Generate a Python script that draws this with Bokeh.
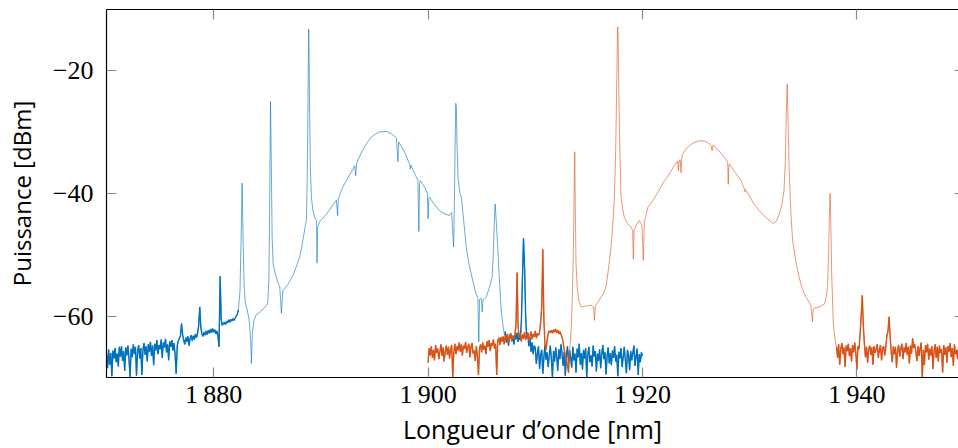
import numpy as np
from bokeh.plotting import figure
from bokeh.models import Range1d, FixedTicker, LinearAxis
from bokeh.embed import file_html
from bokeh.resources import INLINE

# ---------------- data ----------------
x_ticks = [1880, 1900, 1920, 1940]
x_tick_labels = ["1\u2009880", "1\u2009900", "1\u2009920", "1\u2009940"]
y_ticks = [-60, -40, -20]
y_tick_labels = ["\u221260", "\u221240", "\u221220"]

STEP = 0.1  # nm, sampling of the noisy stretches

# blue: noisy floor 1870.0 ... 1882.3 nm (step 0.1)
blue_floor_start = 1870.0
blue_floor_db = [
    -66.2, -68.5, -65.4, -67.9, -66.0, -69.8, -65.6, -66.9, -65.2, -67.5,
    -66.1, -68.2, -65.0, -66.6, -64.9, -67.3, -65.7, -68.9, -65.1, -66.4,
    -64.8, -67.0, -69.9, -65.3, -66.7, -64.6, -66.2, -65.0, -69.7, -65.8,
    -64.7, -66.9, -65.2, -69.6, -65.5, -64.4, -66.3, -64.9, -67.4, -64.6,
    -65.8, -64.2, -66.5, -64.8, -68.0, -64.5, -65.6, -63.9, -66.2, -64.7,
    -65.4, -63.8, -66.8, -64.3, -65.1, -63.7, -65.9, -64.6, -67.2, -64.1,
    -65.0, -63.9, -65.6, -64.4, -66.3,
    -69.4, -64.8, -64.0, -63.6, -63.2, -61.2, -63.0,
    -63.9, -64.6, -63.5, -64.2, -63.3, -64.8, -63.6, -63.1, -64.0, -63.2,
    -63.8, -62.9, -63.5, -62.8, -61.5, -58.5, -61.8, -62.9, -63.3, -62.6,
    -63.1, -62.4, -63.0, -62.3, -62.8, -62.1, -62.7, -62.0, -62.6, -62.2,
    -62.9, -62.4, -63.3, -65.0, -53.5, -60.5, -61.5, -61.2, -61.0, -61.4,
    -60.8, -61.1, -60.6, -61.0, -60.5, -60.8, -60.4, -60.7, -60.3, -60.0,
    -59.7, -59.0,
]

# blue: resolved lines and pump band 1882.45 ... 1907.13 nm
blue_mid_nm = [
    1882.45, 1882.55, 1882.65, 1882.75, 1882.85, 1882.95, 1883.1, 1883.3, 1883.45, 1883.52,
    1883.6, 1883.75, 1883.95, 1884.2, 1884.3, 1884.5, 1884.7, 1884.9, 1885.04, 1885.15,
    1885.22, 1885.3, 1885.38, 1885.45, 1885.54, 1885.7, 1885.9, 1886.05, 1886.16, 1886.32,
    1886.45, 1886.63, 1886.9, 1887.2, 1887.5, 1887.8, 1888.02, 1888.2, 1888.4, 1888.55,
    1888.65, 1888.72, 1888.78, 1888.83, 1888.86, 1888.9, 1888.95, 1889.02, 1889.12, 1889.26,
    1889.45, 1889.58, 1889.64, 1889.7, 1889.89, 1890.2, 1890.5, 1890.8, 1891.1, 1891.44,
    1891.56, 1891.62, 1891.75, 1892.05, 1892.38, 1892.7, 1893.0, 1893.15, 1893.25, 1893.32,
    1893.6, 1893.9, 1894.24, 1894.6, 1895.0, 1895.4, 1895.79, 1896.2, 1896.6, 1897.04,
    1897.19, 1897.26, 1897.35, 1897.6, 1897.9, 1898.15, 1898.28, 1898.34, 1898.4, 1898.6,
    1898.85, 1899.05, 1899.14, 1899.2, 1899.27, 1899.5, 1899.75, 1899.93, 1900.0, 1900.07,
    1900.14, 1900.5, 1901.07, 1901.5, 1902.0, 1902.2, 1902.38, 1902.45, 1902.52, 1902.58,
    1902.63, 1902.7, 1902.8, 1902.95, 1903.1, 1903.3, 1903.56, 1903.85, 1904.18, 1904.45,
    1904.64, 1904.73, 1904.8, 1904.96, 1905.05, 1905.12, 1905.42, 1905.7, 1905.98, 1906.1,
    1906.18, 1906.26, 1906.34, 1906.42, 1906.5, 1906.65, 1906.82, 1906.98, 1907.13,
]
blue_mid_db = [
    -56.0, -48.0, -38.3, -48.5, -55.5, -57.8, -58.8, -60.5, -64.0, -67.7,
    -63.0, -60.7, -59.8, -59.5, -59.3, -59.0, -58.7, -58.3, -57.9, -54.0,
    -42.0, -25.0, -36.0, -47.0, -51.4, -52.8, -54.0, -54.8, -55.2, -59.5,
    -55.8, -55.5, -54.9, -54.0, -52.9, -51.5, -50.3, -48.8, -46.8, -45.2,
    -44.4, -38.0, -28.0, -18.0, -13.2, -17.0, -27.0, -36.0, -40.8, -42.8,
    -44.0, -44.4, -51.3, -45.5, -44.6, -44.0, -43.4, -42.7, -41.9, -41.1,
    -43.6, -40.8, -40.3, -38.9, -37.9, -36.9, -36.0, -35.5, -37.1, -35.2,
    -34.0, -32.9, -31.9, -31.0, -30.4, -30.0, -29.9, -29.9, -30.3, -30.9,
    -34.8, -31.6, -31.9, -32.6, -33.6, -34.7, -35.2, -36.0, -35.4, -36.2,
    -37.1, -37.9, -46.2, -38.5, -37.9, -38.5, -39.2, -40.0, -44.1, -40.8,
    -40.6, -41.6, -42.8, -43.3, -43.6, -43.1, -48.7, -42.0, -32.0, -25.3,
    -25.8, -32.0, -37.5, -39.8, -40.6, -44.0, -48.8, -51.8, -54.3, -56.2,
    -57.0, -64.2, -57.3, -57.1, -59.3, -57.4, -56.9, -55.4, -53.6, -49.0,
    -44.5, -41.7, -44.0, -46.5, -48.8, -54.0, -59.0, -61.5, -63.1,
]

# blue: noisy tail 1907.2 ... 1920.0 nm (step 0.1)
blue_tail_start = 1907.2
blue_tail_db = [
    -62.5, -64.3, -63.0, -64.8, -63.4, -62.8, -64.1, -63.2, -64.6, -63.0,
    -63.8, -62.7, -64.2, -63.1, -63.9, -61.0, -54.0, -47.3, -52.0, -60.0,
    -63.5, -62.7, -64.9, -63.4, -65.8, -64.3, -66.2, -64.8,
    -65.2, -67.8, -66.0, -64.9, -68.6, -66.3, -65.5, -69.4, -66.8, -64.7,
    -67.1, -65.9, -68.3, -66.5, -64.8, -66.9, -70.0, -65.7, -67.4, -65.1,
    -66.6, -68.9, -65.4, -67.0, -64.6, -66.2, -68.1, -65.8, -69.7, -66.4,
    -64.9, -67.6, -65.6, -66.8, -68.4, -65.0, -67.2, -66.1, -69.2, -65.3,
    -66.7, -64.5, -67.9, -66.0, -68.7, -65.5, -66.9, -65.2, -70.0, -66.3,
    -65.0, -67.5, -66.4, -68.2, -64.8, -66.6, -65.7, -69.0, -66.1, -67.3,
    -65.4, -68.5, -66.2, -64.7, -67.0, -65.9, -69.5, -66.5, -65.1, -67.7,
    -66.0, -68.0, -65.6, -66.8, -64.9, -67.4, -66.3, -69.8, -65.8, -66.9,
    -65.2, -68.3, -66.7, -65.0, -67.1, -69.3, -65.5, -66.4, -68.8, -65.7,
    -67.2, -66.0, -64.8, -68.1, -66.6, -65.3, -69.6, -66.2, -67.5, -65.9,
    -66.5,
]

# orange: noisy head 1900.0 ... 1913.2 nm (step 0.1)
orange_head_start = 1900.0
orange_head_db = [
    -67.6, -65.2, -66.4, -64.9, -66.8, -65.5, -67.2, -64.7, -66.0, -65.3,
    -67.0, -65.8, -64.6, -66.5, -65.1, -67.4, -65.7, -64.8, -66.3, -65.0,
    -66.9, -65.4, -64.7, -69.9, -65.9, -64.5, -66.2, -64.9, -65.6, -64.3,
    -65.8, -64.6, -66.4, -64.8, -65.3, -64.2, -66.0, -65.1, -64.5, -66.7,
    -65.0, -64.4, -66.1, -65.6, -67.3, -64.9, -66.6, -69.6, -65.2, -64.6,
    -65.9, -64.3, -65.5, -64.8, -66.2, -64.1, -65.0, -63.9, -65.7, -64.4,
    -64.8, -63.8, -65.3, -64.5, -69.6, -64.0, -63.5, -64.7, -63.4, -64.2,
    -63.3, -64.6, -63.1, -63.9, -62.9, -64.3, -63.6, -62.8, -64.0, -63.2,
    -63.7, -62.9, -61.5, -52.9, -61.8,
    -63.5, -62.8, -64.1, -63.0, -63.7, -62.6, -63.9, -63.2, -62.7, -64.0,
    -63.3, -62.5, -63.8, -62.9, -63.4, -62.4, -63.6, -62.8, -63.1, -62.6,
    -61.0,
    -58.5, -49.1, -60.5, -64.5, -65.5, -64.0, -62.9, -62.4, -62.7, -62.3,
    -62.8, -62.2, -62.6, -62.1, -62.7, -62.3, -62.9, -62.5, -63.0, -63.4,
    -64.3, -65.5, -66.4, -67.2, -68.0, -69.2, -65.5,
]

# orange: resolved lines and pump band 1913.35 ... 1938.04 nm
orange_mid_nm = [
    1913.35, 1913.45, 1913.56, 1913.62, 1913.68, 1913.73, 1913.8, 1913.92, 1914.05, 1914.28,
    1914.6, 1914.9, 1915.2, 1915.45, 1915.52, 1915.6, 1915.85, 1916.14, 1916.4, 1916.6,
    1916.85, 1917.07, 1917.25, 1917.38, 1917.5, 1917.6, 1917.66, 1917.69, 1917.73, 1917.8,
    1917.9, 1918.0, 1918.15, 1918.31, 1918.6, 1918.94, 1919.08, 1919.15, 1919.22, 1919.34,
    1919.55, 1919.7, 1919.96, 1920.08, 1920.18, 1920.33, 1920.48, 1920.7, 1920.95, 1921.3,
    1921.7, 1922.04, 1922.2, 1922.6, 1923.0, 1923.28, 1923.35, 1923.42, 1923.52, 1923.6,
    1923.67, 1923.75, 1924.05, 1924.37, 1924.8, 1925.3, 1925.6, 1925.85, 1926.08, 1926.3,
    1926.42, 1926.49, 1926.56, 1926.7, 1927.0, 1927.35, 1927.63, 1927.85, 1927.95, 1928.0,
    1928.05, 1928.1, 1928.5, 1928.9, 1929.2, 1929.4, 1929.5, 1929.55, 1929.62, 1930.0,
    1930.4, 1930.8, 1931.2, 1931.7, 1932.2, 1932.5, 1932.75, 1933.0, 1933.2, 1933.32,
    1933.42, 1933.5, 1933.57, 1933.68, 1933.85, 1934.0, 1934.3, 1934.6, 1934.9, 1935.25,
    1935.5, 1935.7, 1935.86, 1935.93, 1936.0, 1936.3, 1936.6, 1937.0, 1937.15, 1937.26,
    1937.36, 1937.43, 1937.5, 1937.56, 1937.65, 1937.8, 1937.95, 1938.04,
]
orange_mid_db = [
    -62.3, -57.0, -48.8, -40.0, -33.2, -42.0, -51.4, -55.5, -57.4, -58.5,
    -58.4, -58.3, -58.2, -58.6, -60.7, -58.3, -57.7, -56.9, -56.1, -55.2,
    -52.0, -48.8, -44.5, -40.6, -33.0, -22.0, -14.0, -12.8, -15.0, -24.0,
    -34.0, -40.6, -42.5, -43.9, -44.9, -45.5, -46.0, -50.7, -46.0, -45.5,
    -44.8, -44.4, -45.2, -50.9, -44.5, -43.6, -42.3, -41.8, -41.2, -40.2,
    -39.0, -37.9, -37.6, -36.5, -35.4, -34.7, -36.3, -34.6, -34.5, -36.6,
    -34.0, -33.6, -32.8, -32.2, -31.7, -31.4, -31.4, -31.5, -31.7, -32.0,
    -32.3, -33.0, -32.2, -32.2, -32.8, -33.5, -34.1, -34.6, -35.0, -38.5,
    -35.8, -35.2, -36.2, -37.2, -37.9, -38.8, -39.2, -39.7, -39.4, -40.5,
    -41.7, -42.6, -43.4, -44.2, -44.9, -44.5, -43.4, -41.8, -39.6, -35.0,
    -27.0, -22.2, -27.0, -36.0, -43.4, -47.6, -51.0, -53.6, -55.5, -56.9,
    -57.6, -58.2, -60.9, -58.8, -58.7, -58.6, -58.4, -58.0, -56.8, -55.2,
    -50.0, -44.0, -40.0, -44.0, -53.0, -61.2, -63.5, -64.7,
]

# orange: noisy tail 1938.1 ... 1950.0 nm (step 0.1)
orange_tail_start = 1938.1
orange_tail_db = [
    -65.0, -66.8, -64.6, -67.9, -65.3, -64.4, -66.2, -65.1, -68.3, -64.8,
    -65.7, -64.5, -66.5, -65.2, -67.4, -64.7, -65.9, -64.3, -66.0, -68.7,
    -64.9, -65.4, -63.0,
    -60.0, -56.6, -61.5, -64.5,
    -66.7, -65.0, -67.6, -65.4, -64.8, -66.3, -65.1, -67.9, -64.9, -66.0,
    -65.3, -64.6, -66.8, -65.5, -64.7, -67.2, -65.2, -64.9, -66.4, -65.0,
    -63.2,
    -62.5, -60.1, -63.2,
    -65.8, -67.5, -64.9, -66.2, -65.0, -68.4, -65.6, -64.7, -66.6, -65.3,
    -64.5, -67.0, -65.1, -65.9, -64.4, -66.3, -65.0, -67.7, -64.8, -66.1,
    -63.6, -65.2, -64.6, -65.8, -67.3, -64.9, -66.5, -65.2, -64.3, -69.9,
    -65.5, -68.0, -64.7, -65.9, -64.5, -67.1, -65.3, -66.4, -64.9, -68.6,
    -65.7, -64.6, -66.8, -65.0, -67.4, -64.8, -66.0, -65.4, -69.2, -64.7,
    -66.3, -65.1, -67.6, -64.9, -65.8, -64.4, -66.7, -65.2, -68.1, -64.6,
    -66.2, -65.5, -67.0, -64.8, -66.5, -65.3, -68.8, -64.9, -66.1,
]

BLUE = "#0072BD"
ORANGE = "#D95319"


def grid(start, values):
    return list(np.round(start + STEP * np.arange(len(values)), 2))


blue_floor_nm = grid(blue_floor_start, blue_floor_db)
blue_tail_nm = grid(blue_tail_start, blue_tail_db)
orange_head_nm = grid(orange_head_start, orange_head_db)
orange_tail_nm = grid(orange_tail_start, orange_tail_db)

blue_nm = blue_floor_nm + blue_mid_nm + blue_tail_nm
blue_db = blue_floor_db + blue_mid_db + blue_tail_db
orange_nm = orange_head_nm + orange_mid_nm + orange_tail_nm
orange_db = orange_head_db + orange_mid_db + orange_tail_db

# ---------------- figure ----------------
p = figure(width=958, height=448,
           x_range=Range1d(1870, 1949.48), y_range=Range1d(-70, -10),
           output_backend="svg", toolbar_location=None,
           min_border_left=106, min_border_right=0, min_border_top=9, min_border_bottom=71)
p.outline_line_color = None
p.xgrid.grid_line_color = None
p.ygrid.grid_line_color = None
p.background_fill_color = "white"
p.border_fill_color = "white"

THIN, THICK = 0.6, 1.4
p.line(blue_nm, blue_db, line_color=BLUE, line_width=THIN)
p.line(blue_floor_nm, blue_floor_db, line_color=BLUE, line_width=THICK)
p.line(blue_tail_nm, blue_tail_db, line_color=BLUE, line_width=THICK)
p.line(orange_nm, orange_db, line_color=ORANGE, line_width=THIN)
p.line(orange_head_nm, orange_head_db, line_color=ORANGE, line_width=THICK)
p.line(orange_tail_nm, orange_tail_db, line_color=ORANGE, line_width=THICK)

TICK_COL = "#8a8a8a"
TICK_FONT = "'Liberation Serif', serif"
LABEL_FONT = "'Open Sans', sans-serif"

xa = p.xaxis[0]
xa.ticker = FixedTicker(ticks=x_ticks)
xa.major_label_overrides = dict(zip(x_ticks, x_tick_labels))
ya = p.yaxis[0]
ya.ticker = FixedTicker(ticks=y_ticks)
ya.major_label_overrides = dict(zip(y_ticks, y_tick_labels))

for ax in (xa, ya):
    ax.major_tick_in = 10
    ax.major_tick_out = 0
    ax.minor_tick_line_color = None
    ax.major_tick_line_color = TICK_COL
    ax.major_tick_line_width = 1.2
    ax.axis_line_color = "black"
    ax.axis_line_width = 1.2
    ax.major_label_text_font = TICK_FONT
    ax.major_label_text_font_size = "26px"
    ax.major_label_text_color = "black"
    ax.axis_label_text_font = LABEL_FONT
    ax.axis_label_text_font_style = "normal"
    ax.axis_label_text_color = "black"

xa.axis_label = "Longueur d\u2019onde [nm]"
xa.axis_label_text_font_size = "25px"
xa.major_label_standoff = 2
xa.axis_label_standoff = 0
ya.axis_label = "Puissance [dBm]"
ya.axis_label_text_font_size = "24px"
ya.major_label_standoff = 13
ya.axis_label_standoff = 12

top = LinearAxis(ticker=FixedTicker(ticks=x_ticks),
                 major_label_overrides={t: "" for t in x_ticks})
right = LinearAxis(ticker=FixedTicker(ticks=y_ticks),
                   major_label_overrides={t: "" for t in y_ticks})
for ax, tin, line_col in ((top, 10, "black"), (right, 4, None)):
    ax.major_tick_in = tin
    ax.major_tick_out = 0
    ax.minor_tick_line_color = None
    ax.major_tick_line_color = TICK_COL
    ax.major_tick_line_width = 1.2
    ax.axis_line_color = line_col
    ax.axis_line_width = 1.2
    ax.major_label_text_font_size = "0px"
    ax.major_label_standoff = 0
p.add_layout(top, "above")
p.add_layout(right, "right")

open("out.html", "w").write(file_html(p, INLINE))
